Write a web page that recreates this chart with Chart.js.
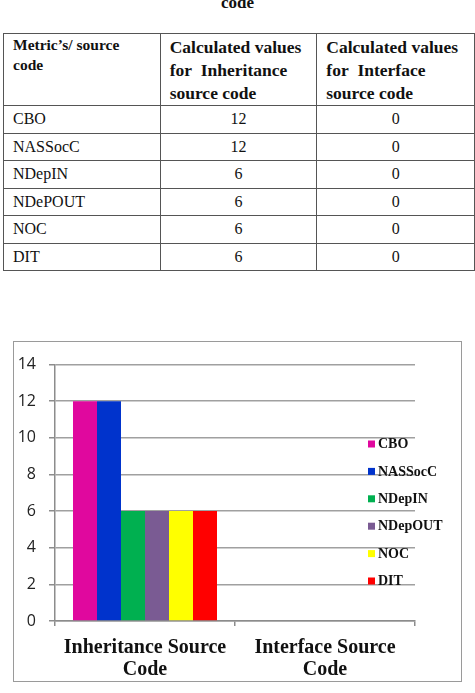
<!DOCTYPE html>
<html>
<head>
<meta charset="utf-8">
<script src="https://cdn.jsdelivr.net/npm/chart.js@4/dist/chart.umd.min.js"></script>
<style>
  html, body { margin:0; padding:0; background:#fff; width:475px; height:693px; overflow:hidden; position:relative; }
  #title { position:absolute; left:0; width:475px; top:-7px; text-align:center; font:bold 17px "Liberation Serif", serif; color:#111; }
  table { position:absolute; left:3px; top:33px; border-collapse:collapse; font-family:"Liberation Serif", serif; color:#111; }
  td { border:1.5px solid #555; padding:0 0 0 9px; vertical-align:middle; }
  tr.h td { height:71px; vertical-align:top; font-weight:bold; }
  tr.d td { height:26.5px; font-size:16px; }
  td.c { text-align:center; padding:0; }
  .h1 { font-size:15.5px; line-height:20px; padding-top:1px; }
  .h2 { font-size:17.5px; line-height:23px; padding-top:2px; }
  #box { position:absolute; left:13px; top:341px; width:449px; height:341px; box-sizing:border-box; border:1px solid #9a9a9a; }
  #wrap { position:absolute; left:0; top:0; width:447px; height:339px; }
</style>
</head>
<body>
<div id="title">code</div>
<table id="tbl">
  <tr class="h">
    <td style="width:147px"><div class="h1">Metric’s/ source<br>code</div></td>
    <td style="width:147px"><div class="h2">Calculated values<br>for&nbsp; Inheritance<br>source code</div></td>
    <td style="width:148px"><div class="h2">Calculated values<br>for&nbsp; Interface<br>source code</div></td>
  </tr>
</table>
<div id="box"><div id="wrap"><canvas id="c" width="447" height="339"></canvas></div></div>
<script>
const metrics = ["CBO", "NASSocC", "NDepIN", "NDepOUT", "NOC", "DIT"];
const tableMetrics = ["CBO", "NASSocC", "NDepIN", "NDePOUT", "NOC", "DIT"];
const categories = [["Inheritance Source", "Code"], ["Interface Source", "Code"]];
const inheritanceValues = [12, 12, 6, 6, 6, 6];
const interfaceValues = [0, 0, 0, 0, 0, 0];
const yTicks = [0, 2, 4, 6, 8, 10, 12, 14];
const colors = ["#E0089E", "#0033CC", "#00B050", "#7A5B93", "#FFFF00", "#FF0000"];

// table rows
const tbl = document.getElementById('tbl');
tableMetrics.forEach((m, i) => {
  const tr = document.createElement('tr');
  tr.className = 'd';
  tr.innerHTML = '<td>' + m + '</td><td class="c">' + inheritanceValues[i] + '</td><td class="c">' + interfaceValues[i] + '</td>';
  tbl.appendChild(tr);
});

const datasets = metrics.map((m, i) => ({
  label: m,
  data: [inheritanceValues[i], interfaceValues[i]],
  backgroundColor: colors[i],
  borderWidth: 0,
  categoryPercentage: 0.8,
  barPercentage: 1.0
}));

const legendPlugin = {
  id: 'customLegend',
  afterDraw(chart) {
    const ctx = chart.ctx;
    ctx.save();
    ctx.font = 'bold 14px "Liberation Serif", serif';
    ctx.textBaseline = 'middle';
    chart.data.datasets.forEach((ds, i) => {
      const y = 102 + i * 27.4;
      ctx.fillStyle = ds.backgroundColor;
      ctx.fillRect(354, y - 3.5, 7, 7);
      ctx.fillStyle = '#111';
      ctx.fillText(ds.label, 364, y + 0.5);
    });
    ctx.restore();
  }
};

new Chart(document.getElementById('c'), {
  type: 'bar',
  data: { labels: categories, datasets },
  plugins: [legendPlugin],
  options: {
    responsive: false,
    animation: false,
    layout: { padding: { top: 12, right: 46, left: 0, bottom: 0 } },
    plugins: { legend: { display: false }, tooltip: { enabled: false } },
    scales: {
      x: {
        grid: { drawOnChartArea: false, drawTicks: true, tickLength: 5, color: '#8c8c8c', lineWidth: 1.5 },
        border: { color: '#8c8c8c', width: 1.5 },
        ticks: { color: '#111', font: { family: '"Liberation Serif", serif', size: 20, weight: 'bold', lineHeight: 1.1 }, padding: 11, maxRotation: 0, autoSkip: false },
        afterFit(s) { s.height = 60; }
      },
      y: {
        min: 0, max: 14,
        afterBuildTicks(s) { s.ticks = yTicks.map(v => ({ value: v })); },
        grid: { color: '#a0a0a0', lineWidth: 1.5, tickLength: 6, tickColor: '#8c8c8c' },
        border: { color: '#8c8c8c', width: 1.5 },
        ticks: { color: '#222', font: { family: '"Open Sans", sans-serif', size: 16 }, padding: 13 },
        afterFit(s) { s.width = 41; }
      }
    }
  }
});
</script>
</body>
</html>
